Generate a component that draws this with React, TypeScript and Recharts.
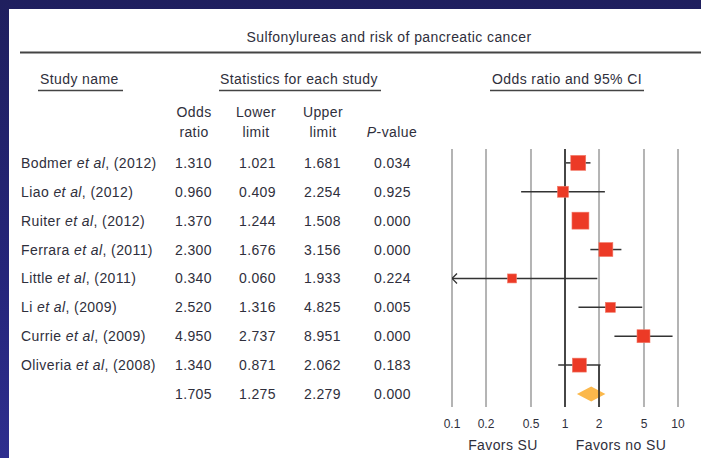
import React from 'react';
import {
  ComposedChart,
  Scatter,
  Area,
  XAxis,
  YAxis,
  CartesianGrid,
  ReferenceLine,
  ErrorBar,
  Customized,
} from 'recharts';

// ---- data ----
const studyNames = ['Bodmer', 'Liao', 'Ruiter', 'Ferrara', 'Little', 'Li', 'Currie', 'Oliveria'];
const studyYears = ['2012', '2012', '2012', '2011', '2011', '2009', '2009', '2008'];
const oddsRatios = [1.31, 0.96, 1.37, 2.3, 0.34, 2.52, 4.95, 1.34];
const lowerLimits = [1.021, 0.409, 1.244, 1.676, 0.06, 1.316, 2.737, 0.871];
const upperLimits = [1.681, 2.254, 1.508, 3.156, 1.933, 4.825, 8.951, 2.062];
const pValues = [0.034, 0.925, 0.0, 0.0, 0.224, 0.005, 0.0, 0.183];
const relativeWeights = [16.3, 8.8, 21.0, 14.2, 5.9, 7.3, 12.3, 14.2];
const summaryOdds = 1.705;
const summaryLower = 1.275;
const summaryUpper = 2.279;
const summaryP = 0.0;
const xTicks = [0.1, 0.2, 0.5, 1, 2, 5, 10];
const xDomain: [number, number] = [0.1, 10];

const TEXT = '#2f2f3c';
const FONT = '"Liberation Sans", Arial, Helvetica, sans-serif';
const summaryRow = studyNames.length;

const studyRows = studyNames.map((name, i) => ({
  x: oddsRatios[i],
  y: i,
  weight: relativeWeights[i],
  ci: [oddsRatios[i] - Math.max(lowerLimits[i], xDomain[0]), upperLimits[i] - oddsRatios[i]],
}));
const arrowRows = studyRows
  .filter((_, i) => lowerLimits[i] < xDomain[0])
  .map((r) => ({ x: xDomain[0], y: r.y }));
const diamondHalf = 0.26;
const diamondData = [
  { x: summaryLower, band: [summaryRow, summaryRow] },
  { x: summaryOdds, band: [summaryRow - diamondHalf, summaryRow + diamondHalf] },
  { x: summaryUpper, band: [summaryRow, summaryRow] },
];
const rowTicks = [...studyNames.map((_, i) => i), summaryRow];

const txt = { fontFamily: FONT, fontSize: 14, fill: TEXT, letterSpacing: 0.4 } as const;

const RowTick = (props: any) => {
  const i = props.payload.value as number;
  const y = props.y + 5;
  const isSummary = i === summaryRow;
  const or = isSummary ? summaryOdds : oddsRatios[i];
  const lo = isSummary ? summaryLower : lowerLimits[i];
  const hi = isSummary ? summaryUpper : upperLimits[i];
  const p = isSummary ? summaryP : pValues[i];
  return (
    <g>
      {!isSummary && (
        <text x={21} y={y} {...txt}>
          {studyNames[i]} <tspan fontStyle="italic">et al</tspan>, ({studyYears[i]})
        </text>
      )}
      <text x={212} y={y} textAnchor="end" {...txt}>{or.toFixed(3)}</text>
      <text x={276} y={y} textAnchor="end" {...txt}>{lo.toFixed(3)}</text>
      <text x={341} y={y} textAnchor="end" {...txt}>{hi.toFixed(3)}</text>
      <text x={411} y={y} textAnchor="end" {...txt}>{p.toFixed(3)}</text>
    </g>
  );
};

const Header = () => (
  <g>
    <text x={389} y={42} textAnchor="middle" {...txt}>Sulfonylureas and risk of pancreatic cancer</text>
    <line x1={20} x2={701} y1={52.5} y2={52.5} stroke="#444" strokeWidth={2} />
    <text x={40} y={84} {...txt}>Study name</text>
    <line x1={38} x2={123} y1={90.5} y2={90.5} stroke="#444" strokeWidth={1.5} />
    <text x={220} y={84} {...txt}>Statistics for each study</text>
    <line x1={219} x2={381} y1={90.5} y2={90.5} stroke="#444" strokeWidth={1.5} />
    <text x={492} y={84} {...txt}>Odds ratio and 95% CI</text>
    <line x1={490} x2={644} y1={90.5} y2={90.5} stroke="#444" strokeWidth={1.5} />
    <text x={194} y={117} textAnchor="middle" {...txt}>Odds</text>
    <text x={194} y={137} textAnchor="middle" {...txt}>ratio</text>
    <text x={256} y={117} textAnchor="middle" {...txt}>Lower</text>
    <text x={256} y={137} textAnchor="middle" {...txt}>limit</text>
    <text x={323} y={117} textAnchor="middle" {...txt}>Upper</text>
    <text x={323} y={137} textAnchor="middle" {...txt}>limit</text>
    <text x={392} y={137} textAnchor="middle" {...txt}>
      <tspan fontStyle="italic">P</tspan>-value
    </text>
    <text x={503} y={450} textAnchor="middle" {...txt}>Favors SU</text>
    <text x={621} y={450} textAnchor="middle" {...txt}>Favors no SU</text>
  </g>
);

const SquareShape = (props: any) => {
  const side = 3.7 * Math.sqrt(props.payload.weight);
  return (
    <rect
      x={props.cx - side / 2}
      y={props.cy - side / 2}
      width={side}
      height={side}
      fill="#ec3a26"
      stroke="#f27a68"
      strokeWidth={0.6}
    />
  );
};

const ArrowShape = (props: any) => (
  <path
    d={`M${props.cx + 5},${props.cy - 5} L${props.cx},${props.cy} L${props.cx + 5},${props.cy + 5}`}
    fill="none"
    stroke="#333"
    strokeWidth={1.3}
  />
);

export default function App() {
  return (
    <div
      style={{
        position: 'absolute',
        left: 0,
        top: 0,
        width: 701,
        height: 458,
        background: 'linear-gradient(to bottom, #1f1f5e 0%, #25257a 60%, #2e2e8e 100%)',
        overflow: 'hidden',
      }}
    >
      <div style={{ position: 'absolute', left: 9, top: 9, right: 0, bottom: 0, background: '#fff' }} />
      <div style={{ position: 'absolute', left: 0, top: 0 }}>
        <ComposedChart width={701} height={458} margin={{ top: 149, right: 23, bottom: 21, left: 451 }}>
          <CartesianGrid horizontal={false} stroke="#b4b4b4" strokeWidth={2} />
          <XAxis
            type="number"
            dataKey="x"
            scale="log"
            domain={xDomain}
            ticks={xTicks}
            allowDataOverflow
            interval={0}
            height={30}
            axisLine={false}
            tickLine={false}
            tickSize={0}
            tickMargin={12.5}
            tickFormatter={(v: number) => String(v)}
            tick={{ fill: TEXT, fontSize: 12, fontFamily: FONT }}
          />
          <YAxis
            type="number"
            dataKey="y"
            domain={[-0.48, 8.45]}
            reversed
            allowDataOverflow
            ticks={rowTicks}
            interval={0}
            width={1}
            axisLine={false}
            tickLine={false}
            tick={RowTick}
          />
          <ReferenceLine x={1} stroke="#222" strokeWidth={1.5} />
          <ReferenceLine
            segment={[
              { x: 2, y: 7 },
              { x: 2, y: 8.45 },
            ]}
            stroke="#222"
            strokeWidth={1.5}
          />
          <Area
            data={diamondData}
            dataKey="band"
            type="linear"
            fill="#fbb84b"
            fillOpacity={1}
            stroke="none"
            dot={false}
            activeDot={false}
            isAnimationActive={false}
          />
          <Scatter data={arrowRows} shape={ArrowShape} isAnimationActive={false} />
          <Scatter data={studyRows} shape={SquareShape} isAnimationActive={false}>
            <ErrorBar dataKey="ci" direction="x" width={0} stroke="#333" strokeWidth={1.5} />
          </Scatter>
          <Customized component={Header} />
        </ComposedChart>
      </div>
    </div>
  );
}
